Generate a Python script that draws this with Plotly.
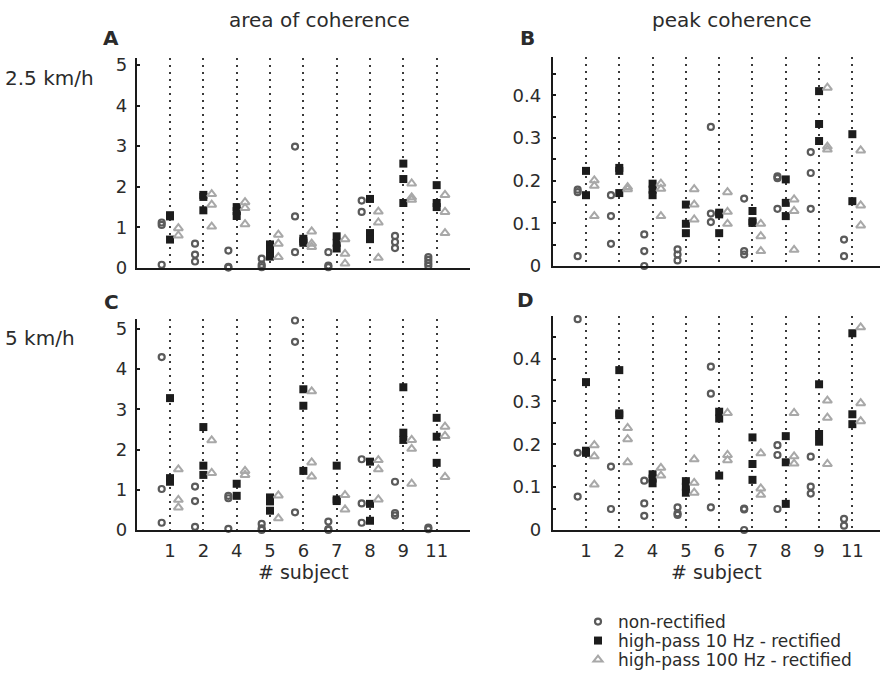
import plotly.graph_objects as go

subjects = ["1", "2", "4", "5", "6", "7", "8", "9", "11"]
series_names = ["non-rectified", "high-pass 10 Hz - rectified", "high-pass 100 Hz - rectified"]

# Panel A: area of coherence, 2.5 km/h
A_nonrect = [[1.12, 1.06, 0.08], [0.60, 0.33, 0.16], [0.43, 0.03, 0.01], [0.23, 0.08, 0.02],
             [2.99, 1.27, 0.39], [0.39, 0.06, 0.02], [1.66, 1.38], [0.79, 0.64, 0.49],
             [0.27, 0.20, 0.12, 0.05]]
A_hp10 = [[1.30, 1.27, 0.70], [1.80, 1.75, 1.42], [1.50, 1.40, 1.28], [0.58, 0.45, 0.28],
          [0.72, 0.62, 0.66], [0.78, 0.62, 0.48], [1.70, 0.86, 0.71], [2.57, 2.19, 1.60],
          [2.04, 1.60, 1.50]]
A_hp100 = [[0.98, 0.80], [1.82, 1.56, 1.02], [1.62, 1.48, 1.08], [0.82, 0.60, 0.27],
           [0.90, 0.60, 0.52], [0.71, 0.35, 0.11], [1.39, 1.12, 0.25], [2.08, 1.74, 1.68],
           [1.80, 1.38, 0.86]]

# Panel B: peak coherence, 2.5 km/h
B_nonrect = [[0.179, 0.173, 0.023], [0.166, 0.117, 0.052], [0.074, 0.035, 0.0], [0.039, 0.027, 0.013],
             [0.326, 0.123, 0.103], [0.158, 0.035, 0.027], [0.210, 0.206, 0.134], [0.267, 0.218, 0.134],
             [0.062, 0.023]]
B_hp10 = [[0.223, 0.166], [0.230, 0.223, 0.171], [0.193, 0.179, 0.166], [0.144, 0.099, 0.077],
          [0.125, 0.121, 0.077], [0.129, 0.105, 0.101], [0.203, 0.148, 0.117], [0.410, 0.333, 0.293],
          [0.309, 0.152]]
B_hp100 = [[0.201, 0.188, 0.117], [0.185, 0.180], [0.193, 0.181, 0.117], [0.180, 0.144, 0.109],
           [0.173, 0.127, 0.099], [0.099, 0.070, 0.035], [0.156, 0.129, 0.038], [0.418, 0.280, 0.273],
           [0.271, 0.142, 0.095]]

# Panel C: area of coherence, 5 km/h
C_nonrect = [[4.30, 1.02, 0.18], [1.08, 0.72, 0.08], [0.85, 0.79, 0.03], [0.15, 0.04, 0.0],
             [5.21, 4.68, 0.44], [0.21, 0.02, 0.0], [1.76, 0.66, 0.18], [1.20, 0.42, 0.36],
             [0.06, 0.02]]
C_hp10 = [[3.28, 1.29, 1.20], [2.56, 1.60, 1.37], [1.15, 0.85], [0.81, 0.71, 0.48],
          [3.50, 3.09, 1.47], [1.60, 0.76, 0.72], [1.70, 0.65, 0.23], [3.55, 2.42, 2.24],
          [2.79, 2.32, 1.67]]
C_hp100 = [[1.51, 0.75, 0.56], [2.23, 1.42], [1.47, 1.37], [0.86, 0.29],
           [3.45, 1.68, 1.33], [0.87, 0.51], [1.74, 1.51, 0.76], [2.24, 2.02, 1.15],
           [2.57, 2.34, 1.32]]

# Panel D: peak coherence, 5 km/h
D_nonrect = [[0.492, 0.180, 0.078], [0.148, 0.049], [0.115, 0.062, 0.033], [0.053, 0.039, 0.035],
             [0.381, 0.318, 0.053], [0.050, 0.048, 0.0], [0.198, 0.175, 0.049], [0.171, 0.101, 0.085],
             [0.026, 0.010]]
D_hp10 = [[0.345, 0.185, 0.180], [0.373, 0.272, 0.268], [0.130, 0.120, 0.109], [0.114, 0.101, 0.087],
          [0.276, 0.260, 0.127], [0.216, 0.154, 0.117], [0.219, 0.158, 0.061], [0.340, 0.224, 0.206],
          [0.459, 0.270, 0.247]]
D_hp100 = [[0.198, 0.172, 0.106], [0.238, 0.212, 0.158], [0.145, 0.127], [0.165, 0.110, 0.087],
           [0.273, 0.175, 0.163], [0.179, 0.097, 0.082], [0.273, 0.172, 0.155], [0.302, 0.262, 0.154],
           [0.473, 0.296, 0.254]]

FONT = "DejaVu Sans"
TXT = "#2b2b2b"
C_CIRC = "#5a5a5a"
C_SQ = "#1c1c1c"
C_TRI = "#a8a8a8"

offsets = [-0.25, 0.0, 0.25]
styles = [
    dict(symbol="circle-open", size=6, color=C_CIRC, line=dict(width=2.2, color=C_CIRC)),
    dict(symbol="square", size=8, color=C_SQ, line=dict(width=0)),
    dict(symbol="triangle-up-open", size=8, color=C_TRI, line=dict(width=2, color=C_TRI)),
]
legend_ids = ["legend", "legend2", "legend3"]

fig = go.Figure()

panels = [
    ("x", "y", [A_nonrect, A_hp10, A_hp100], True),
    ("x2", "y2", [B_nonrect, B_hp10, B_hp100], False),
    ("x3", "y3", [C_nonrect, C_hp10, C_hp100], False),
    ("x4", "y4", [D_nonrect, D_hp10, D_hp100], False),
]

for xa, ya, data, show in panels:
    for k, series in enumerate(data):
        xs, ys = [], []
        for i, vals in enumerate(series):
            for v in vals:
                xs.append(i + 1 + offsets[k])
                ys.append(v)
        fig.add_trace(go.Scatter(
            x=xs, y=ys, mode="markers", xaxis=xa, yaxis=ya,
            marker=styles[k], name=series_names[k], legendgroup=series_names[k],
            legend=legend_ids[k], showlegend=show, cliponaxis=False, hoverinfo="x+y",
        ))

W, H = 880, 678

def px_x(a, b):
    return [a / W, b / W]

def px_y(top, bottom):
    return [1 - bottom / H, 1 - top / H]

xcommon = dict(
    tickvals=list(range(1, 10)), ticktext=subjects,
    showgrid=True, gridcolor="#3a3a3a", gridwidth=1.6, griddash="2px,5px",
    showline=True, linecolor="#1a1a1a", linewidth=2, zeroline=False,
    ticks="", tickfont=dict(family=FONT, size=18, color=TXT),
    ticklabelstandoff=3, automargin=False, fixedrange=True,
)
yarea = dict(
    tickvals=[0, 1, 2, 3, 4, 5], ticktext=["0", "1", "2", "3", "4", "5"],
    showgrid=False, showline=True, linecolor="#1a1a1a", linewidth=2, zeroline=False,
    ticks="inside", ticklen=3, tickwidth=1.5, tickcolor="#1a1a1a",
    tickfont=dict(family=FONT, size=18, color=TXT), ticklabelstandoff=4,
    automargin=False, fixedrange=True,
)
ypeak = dict(
    tickvals=[0, 0.1, 0.2, 0.3, 0.4], ticktext=["0", "0.1", "0.2", "0.3", "0.4"],
    showgrid=False, showline=True, linecolor="#1a1a1a", linewidth=2, zeroline=False,
    ticks="inside", ticklen=3, tickwidth=1.5, tickcolor="#1a1a1a",
    minor=dict(dtick=0.05, tick0=0, ticks="inside", ticklen=3, tickwidth=1.5, tickcolor="#1a1a1a"),
    tickfont=dict(family=FONT, size=18, color=TXT), ticklabelstandoff=6,
    automargin=False, fixedrange=True,
)

xtitle = dict(text="# subject", font=dict(family=FONT, size=19, color=TXT), standoff=0)

legend_common = dict(
    xanchor="left", yanchor="middle",
    font=dict(family=FONT, size=17, color=TXT),
    bgcolor="rgba(0,0,0,0)", itemclick=False, itemdoubleclick=False,
)

fig.update_layout(
    width=W, height=H,
    margin=dict(l=0, r=0, t=0, b=0, autoexpand=False),
    paper_bgcolor="white", plot_bgcolor="white",
    xaxis=dict(xcommon, domain=px_x(136.7, 470), range=[0, 10], anchor="y", showticklabels=False),
    yaxis=dict(yarea, domain=px_y(58, 268), range=[0, 5.17], anchor="x"),
    xaxis2=dict(xcommon, domain=px_x(552.7, 880), range=[0, 9.83], anchor="y2", showticklabels=False),
    yaxis2=dict(ypeak, domain=px_y(57, 266), range=[0, 0.49], anchor="x2"),
    xaxis3=dict(xcommon, domain=px_x(136.7, 470), range=[0, 10], anchor="y3", title=xtitle),
    yaxis3=dict(yarea, domain=px_y(318.5, 530), range=[0, 5.26], anchor="x3"),
    xaxis4=dict(xcommon, domain=px_x(552.7, 880), range=[0, 9.83], anchor="y4", title=xtitle),
    yaxis4=dict(ypeak, domain=px_y(315.7, 530), range=[0, 0.50], anchor="x4"),
    showlegend=True,
    legend=dict(legend_common, x=578 / W, y=1 - 622 / H),
    legend2=dict(legend_common, x=578 / W, y=1 - 641 / H),
    legend3=dict(legend_common, x=578 / W, y=1 - 660 / H),
    hovermode="closest",
)

def ann(text, x, y, size, bold=False, xanchor="center"):
    fig.add_annotation(
        text=("<b>%s</b>" % text) if bold else text,
        x=x / W, y=1 - y / H, xref="paper", yref="paper",
        xanchor=xanchor, yanchor="middle", showarrow=False,
        font=dict(family=FONT, size=size, color=TXT),
    )

ann("area of coherence", 319, 20, 20)
ann("peak coherence", 731, 20, 20)
ann("A", 111, 38, 20, bold=True)
ann("B", 527, 38, 20, bold=True)
ann("C", 112, 302, 20, bold=True)
ann("D", 525, 300, 20, bold=True)
ann("2.5 km/h", 3, 78, 20, xanchor="left")
ann("5 km/h", 3, 338, 20, xanchor="left")

fig.write_html("out.html")
